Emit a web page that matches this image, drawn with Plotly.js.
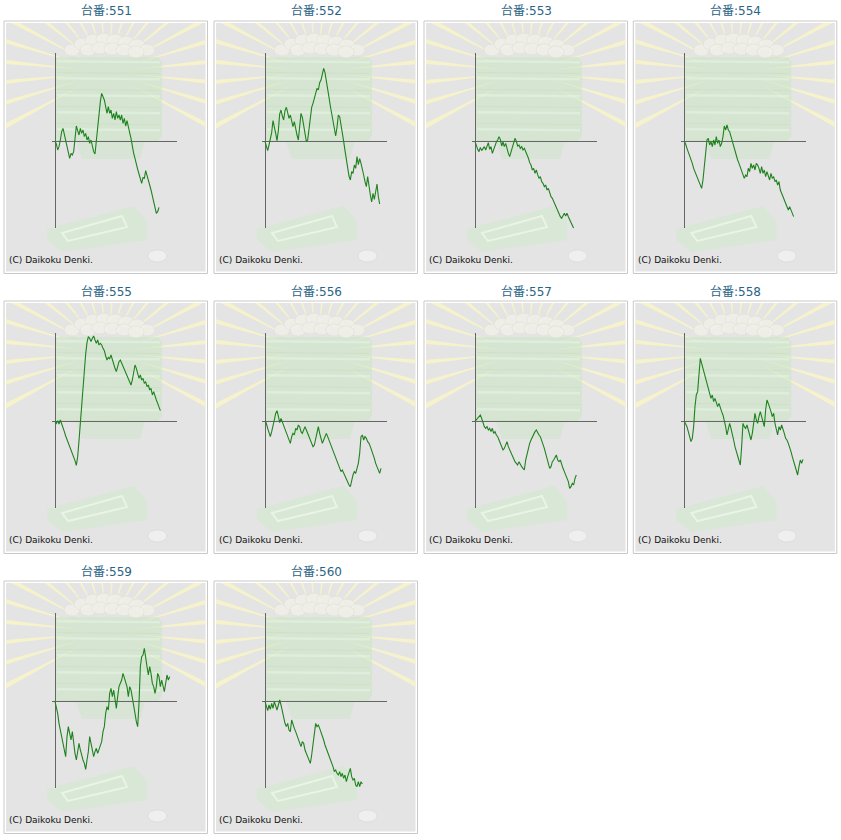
<!DOCTYPE html>
<html>
<head>
<meta charset="utf-8">
<script src="https://cdn.plot.ly/plotly-3.0.1.min.js"></script>
<style>
  html, body { margin: 0; padding: 0; background: #fff; }
  #chart { width: 841px; height: 840px; }
</style>
</head>
<body>
<div id="chart"></div>
<script>
const W = 841;
const H = 840;

// machine numbers shown above each panel
const machines = ['551', '552', '553', '554', '555', '556', '557', '558', '559', '560'];

// medal difference per sample (one sample every 40 games)
const STEP = 40;
const diff551 = [0, -80, -260, -160, 40, 290, 390, 190, -10, -160, -310, -510, -360, -410, -310, 40, 460, 320, 190, 390, 240, 340, 140, 240, 40, 140, -60, 40, -160, -310, -380, 40, 490, 890, 1190, 1440, 1340, 1240, 1040, 840, 1040, 840, 940, 690, 840, 640, 890, 690, 790, 640, 790, 540, 690, 460, 620, 390, 260, 90, -160, -360, -510, -710, -840, -980, -1140, -1260, -1080, -1120, -880, -1000, -1160, -1310, -1460, -1640, -1810, -1980, -2160, -2110, -1980];
const diff552 = [0, -160, -280, -110, 40, 260, 620, 460, 240, 20, 320, 820, 940, 760, 640, 920, 1020, 860, 690, 790, 560, 440, 590, 340, 190, 40, 520, 840, 720, 460, 240, 0, 40, 420, 720, 1020, 1140, 1320, 1460, 1590, 1540, 1760, 1840, 2020, 2190, 2060, 1760, 1560, 1320, 1060, 860, 620, 420, 160, 420, 790, 740, 520, 260, 0, -280, -540, -840, -1040, -1160, -910, -960, -710, -810, -460, -700, -520, -660, -810, -1010, -1210, -1360, -1060, -1410, -1610, -1820, -1560, -1740, -1460, -1280, -1660, -1880];
const diff553 = [0, -140, -240, -310, -180, -280, -210, -160, -260, -140, -40, -240, -160, -360, -220, -120, -20, 40, 140, 60, -140, -20, -160, -60, -260, -360, -460, -320, -180, 20, 90, 0, -140, -110, -210, -160, -260, -210, -310, -360, -500, -640, -710, -860, -810, -960, -860, -1000, -1110, -1060, -1210, -1260, -1360, -1310, -1460, -1410, -1560, -1660, -1710, -1810, -1910, -2000, -2060, -2160, -2260, -2310, -2210, -2160, -2240, -2160, -2260, -2360, -2410, -2510, -2610];
const diff554 = [0, -80, -210, -310, -410, -560, -660, -810, -910, -1010, -1110, -1210, -1310, -1410, -1160, -760, -260, 40, 90, -110, -10, -160, 40, -110, 140, -60, 40, -160, -60, 140, 460, 340, 490, 340, 290, 140, 40, -110, -260, -410, -560, -660, -760, -860, -960, -1110, -1010, -1060, -810, -910, -660, -810, -710, -860, -660, -710, -810, -960, -760, -960, -860, -1060, -910, -1060, -1160, -960, -1110, -1060, -1210, -1160, -1310, -1210, -1460, -1560, -1660, -1760, -1860, -1960, -2060, -1960, -2060, -2160, -2260];
const diff555 = [0, -60, 20, -80, 40, -60, -210, -310, -440, -540, -640, -740, -840, -940, -1040, -1180, -1320, -1060, -580, -60, 590, 1190, 1620, 2020, 2360, 2540, 2490, 2390, 2490, 2560, 2440, 2340, 2440, 2290, 2340, 2290, 2190, 2120, 1960, 1840, 1920, 1880, 1990, 1840, 1690, 1590, 1490, 1640, 1790, 1840, 1740, 1640, 1590, 1490, 1390, 1290, 1190, 1090, 1240, 1520, 1690, 1590, 1440, 1290, 1390, 1240, 1290, 1140, 1190, 1040, 1090, 940, 990, 790, 890, 740, 640, 540, 440, 320];
const diff556 = [0, -60, -210, -340, -460, -310, -160, 40, 240, 320, 160, -40, 90, -10, -110, -210, -340, -460, -560, -660, -460, -360, -410, -210, -260, -110, -160, -310, -360, -260, -160, -260, -360, -460, -560, -660, -760, -710, -510, -260, -160, -360, -510, -660, -560, -460, -360, -460, -560, -660, -810, -860, -960, -1060, -1160, -1310, -1410, -1510, -1460, -1560, -1660, -1710, -1810, -1910, -1960, -1760, -1610, -1510, -1560, -1410, -1260, -960, -460, -410, -560, -460, -510, -610, -660, -760, -860, -960, -1110, -1260, -1360, -1460, -1560, -1410];
const diff557 = [0, 40, 90, 140, 190, 90, -60, -160, -210, -160, -260, -210, -310, -210, -360, -310, -410, -460, -560, -660, -760, -860, -810, -710, -610, -760, -860, -960, -1060, -1160, -1210, -1260, -1310, -1210, -1310, -1360, -1410, -1460, -1160, -960, -860, -660, -560, -460, -360, -310, -260, -360, -410, -460, -560, -710, -810, -960, -1110, -1260, -1410, -1360, -1210, -1160, -1060, -1010, -1160, -1210, -1160, -1310, -1410, -1510, -1610, -1710, -1810, -2010, -1960, -1860, -1910, -1710, -1610];
const diff558 = [0, -60, -160, -310, -510, -610, -510, -160, 440, 790, 890, 1340, 1890, 1740, 1590, 1440, 1290, 1140, 990, 840, 690, 790, 590, 690, 540, 440, 540, 390, 290, 190, 40, -160, -410, -260, -60, -210, -360, -560, -760, -910, -1060, -1210, -1310, -760, -60, -160, -210, -110, -260, -360, -560, -360, 40, 240, 40, -60, 140, 290, 140, -10, -160, 340, 640, 540, 440, 290, 140, 240, -60, -260, -410, -160, -260, -110, -210, -360, -510, -560, -660, -760, -910, -1060, -1210, -1310, -1460, -1610, -1360, -1160, -1260, -1140];
const diff559 = [0, -160, -360, -660, -860, -1060, -1260, -1460, -1660, -1060, -760, -960, -1160, -910, -1260, -1560, -1760, -1460, -1260, -1460, -1660, -1760, -1860, -2040, -1760, -1510, -1060, -1260, -1460, -1660, -1510, -1410, -1560, -1460, -1360, -1210, -910, -760, -360, -160, -260, 240, 390, 140, 340, 40, -210, 140, 440, 540, 640, 840, 690, 540, 440, 140, 440, 340, 140, -60, -360, -610, -760, -60, 1040, 1340, 1390, 1590, 1240, 1040, 790, 1040, 840, 540, 440, 240, 440, 840, 740, 440, 640, 490, 290, 540, 790, 640, 740];
const diff560 = [0, -160, -280, -110, -240, -60, -210, -10, -160, -260, -110, 40, -110, -310, -460, -660, -760, -660, -860, -910, -560, -710, -810, -910, -1010, -1160, -1260, -1360, -1210, -1260, -1460, -1560, -1660, -1760, -1860, -1610, -1260, -860, -660, -760, -710, -810, -910, -1010, -1160, -1310, -1410, -1560, -1660, -1760, -1860, -1960, -2110, -2060, -2160, -2210, -2110, -2260, -2160, -2310, -2210, -2410, -2260, -2160, -2010, -2260, -2360, -2310, -2510, -2560, -2410, -2560, -2410, -2480];

const series = [diff551, diff552, diff553, diff554, diff555, diff556, diff557, diff558, diff559, diff560];

// axis ranges shared by every panel
const X_RANGE = [-100, 3650];
const Y_RANGE = [-2610, 2640];

const colOffsets = [0, 210, 420, 629.3];
const rowOffsets = [0, 280, 560];

const px = x => x / W;
const py = y => 1 - y / H;

// background art of one panel (rays, trays, balls, coin)
function panelShapes(ox, oy) {
    const shapes = [];
    const pt = (x, y) => px(ox + x).toFixed(5) + ',' + py(oy + y).toFixed(5);
    const poly = pts => 'M' + pts.map(p => pt(p[0], p[1])).join(' L') + ' Z';
    const rect = (x0, y0, x1, y1, fill, line, lw) => ({
        type: 'rect', xref: 'paper', yref: 'paper', layer: 'below',
        x0: px(ox + x0), x1: px(ox + x1), y0: py(oy + y1), y1: py(oy + y0),
        fillcolor: fill, line: { color: line || 'rgba(0,0,0,0)', width: lw || 0 }
    });
    const path = (pts, fill, line, lw) => ({
        type: 'path', xref: 'paper', yref: 'paper', layer: 'below',
        path: poly(pts), fillcolor: fill,
        line: { color: line || 'rgba(0,0,0,0)', width: lw || 0 }
    });
    const ellipse = (x0, y0, x1, y1, fill, line) => ({
        type: 'circle', xref: 'paper', yref: 'paper', layer: 'below',
        x0: px(ox + x0), x1: px(ox + x1), y0: py(oy + y1), y1: py(oy + y0),
        fillcolor: fill, line: { color: line || 'rgba(0,0,0,0)', width: line ? 0.6 : 0 }
    });

    // frame
    shapes.push(rect(4, 21, 207.5, 273.5, '#ffffff', '#c9c9c9', 1));
    shapes.push(rect(6, 23, 205.5, 271.5, '#e4e4e4'));

    // rays
    const cx = 107, cy = 72;
    const bx0 = 6, bx1 = 205.5, by0 = 23, by1 = 271.5;
    const hit = (a) => {
        const dx = Math.cos(a), dy = -Math.sin(a);
        let t = 1e9;
        if (dx > 0) t = Math.min(t, (bx1 - cx) / dx);
        if (dx < 0) t = Math.min(t, (bx0 - cx) / dx);
        if (dy > 0) t = Math.min(t, (by1 - cy) / dy);
        if (dy < 0) t = Math.min(t, (by0 - cy) / dy);
        return [cx + dx * t, cy + dy * t];
    };
    for (let i = 0; i < 22; i++) {
        const deg = -28 + i * (236 / 21);
        const a = deg * Math.PI / 180;
        const w = 1.2 * Math.PI / 180;
        const p1 = hit(a - w), p2 = hit(a + w);
        const r0 = 30;
        const q1 = [cx + Math.cos(a - 0.004) * r0, cy - Math.sin(a - 0.004) * r0];
        const q2 = [cx + Math.cos(a + 0.004) * r0, cy - Math.sin(a + 0.004) * r0];
        shapes.push(path([q1, p1, p2, q2], 'rgba(248,245,200,0.85)'));
    }

    // stacked trays
    shapes.push(path([[56, 57], [158, 57], [162, 62], [162, 136], [158, 141], [56, 141]], 'rgba(196,230,188,0.45)'));
    [60, 77, 94, 111, 128].forEach(y => {
        shapes.push(path([[57, y], [160, y + 1], [160, y + 3.5], [57, y + 2.5]], 'rgba(236,248,232,0.45)'));
        shapes.push(path([[57, y + 12], [160, y + 13], [160, y + 14], [57, y + 13]], 'rgba(170,210,160,0.2)'));
    });
    shapes.push(path([[76, 141], [145, 141], [140, 159], [82, 159]], 'rgba(196,230,188,0.38)'));

    // balls on top
    [[72, 50], [82, 44], [93, 40], [104, 39], [115, 40], [126, 42], [137, 45], [147, 50],
     [88, 50], [100, 48], [112, 49], [124, 50], [136, 52]].forEach(b => {
        shapes.push(ellipse(b[0] - 8, b[1] - 6, b[0] + 8, b[1] + 6, 'rgba(240,239,232,0.85)', 'rgba(220,220,210,0.8)'));
    });

    // bottom tray
    shapes.push(path([[47, 229], [134, 206], [147, 221], [147, 240], [62, 252], [47, 240]], 'rgba(204,234,198,0.45)'));
    shapes.push(path([[62, 233], [122, 216], [127, 227], [68, 241]], 'rgba(0,0,0,0)', 'rgba(236,248,232,0.8)', 2));

    // coin
    shapes.push(ellipse(148, 250, 167, 262, '#efefef', '#d6d6d6'));
    return shapes;
}

const traces = [];
const layout = {
    width: W,
    height: H,
    margin: { l: 0, r: 0, t: 0, b: 0 },
    paper_bgcolor: '#ffffff',
    plot_bgcolor: 'rgba(0,0,0,0)',
    showlegend: false,
    shapes: [],
    annotations: []
};

series.forEach((vals, k) => {
    const ox = colOffsets[k % 4];
    const oy = rowOffsets[Math.floor(k / 4)];
    const n = k === 0 ? '' : String(k + 1);

    traces.push({
        x: vals.map((_, i) => i * STEP),
        y: vals,
        xaxis: 'x' + n,
        yaxis: 'y' + n,
        type: 'scatter',
        mode: 'lines',
        line: { color: '#1f821f', width: 1.1 },
        hoverinfo: 'skip'
    });

    const axisStyle = {
        showgrid: false,
        showticklabels: false,
        ticks: '',
        showline: false,
        zeroline: true,
        zerolinecolor: '#666666',
        zerolinewidth: 1,
        fixedrange: true
    };
    layout['xaxis' + n] = Object.assign({}, axisStyle, {
        domain: [px(ox + 51.67), px(ox + 176.67)],
        range: X_RANGE,
        anchor: 'y' + n
    });
    layout['yaxis' + n] = Object.assign({}, axisStyle, {
        domain: [py(oy + 228.33), py(oy + 53.33)],
        range: Y_RANGE,
        anchor: 'x' + n
    });

    layout.shapes.push(...panelShapes(ox, oy));

    layout.annotations.push({
        text: '台番:' + machines[k],
        xref: 'paper', yref: 'paper',
        x: px(ox + 106), y: py(oy + 11),
        xanchor: 'center', yanchor: 'middle',
        showarrow: false,
        font: { family: 'DejaVu Sans, Noto Sans CJK JP, sans-serif', size: 12, color: '#2a6384' }
    });
    layout.annotations.push({
        text: '(C) Daikoku Denki.',
        xref: 'paper', yref: 'paper',
        x: px(ox + 7), y: py(oy + 260),
        xanchor: 'left', yanchor: 'middle',
        showarrow: false,
        font: { family: 'DejaVu Sans, sans-serif', size: 9, color: '#111111' }
    });
});

Plotly.newPlot('chart', traces, layout, { displayModeBar: false, staticPlot: true });
</script>
</body>
</html>
